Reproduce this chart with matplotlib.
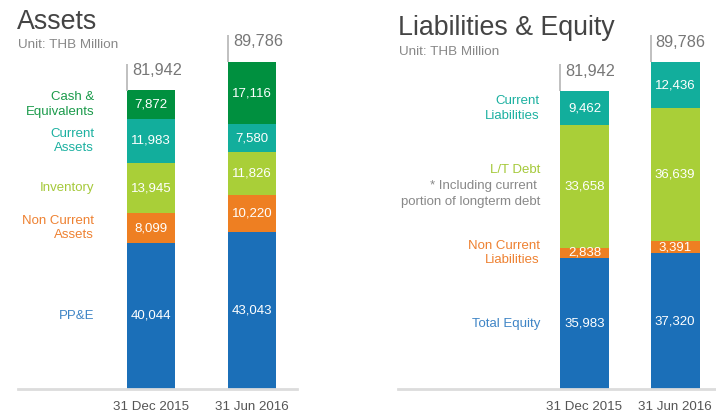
import numpy as np
import matplotlib.pyplot as plt

plt.rcParams['font.family'] = ['Liberation Sans', 'DejaVu Sans']

periods = ["31 Dec 2015", "31 Jun 2016"]

asset_cats = ["PP&E", "Non Current\nAssets", "Inventory", "Current\nAssets", "Cash &\nEquivalents"]
asset_dec15 = [40044, 8099, 13945, 11983, 7872]
asset_jun16 = [43043, 10220, 11826, 7580, 17116]
asset_totals = [81942, 89786]

liab_cats = ["Total Equity", "Non Current\nLiabilities", "L/T Debt", "Current\nLiabilities"]
liab_dec15 = [35983, 2838, 33658, 9462]
liab_jun16 = [37320, 3391, 36639, 12436]
liab_totals = [81942, 89786]

asset_colors = ["#1b6fb8", "#ee7f22", "#a9cf38", "#12ae9c", "#00903f"]
asset_text = ["#3f85c6", "#ee8131", "#a5c93a", "#1bb0a0", "#1a9a4a"]
liab_colors = ["#1b6fb8", "#ee7f22", "#a9cf38", "#12ae9c"]
liab_text = ["#3f85c6", "#ee8131", "#a5c93a", "#1bb0a0"]

W, H = 716, 416
PPU = 298 / 81942  # pixels per THB million

fig = plt.figure(figsize=(W / 100, H / 100), dpi=100)


def panel(x0, x1, ybase, c0, step, width_px, label_x, cats, s1, s2, totals, colors, tcolors):
    ax = fig.add_axes([x0 / W, (H - ybase) / H, (x1 - x0) / W, ybase / H])
    ax.set_xlim((x0 - c0) / step, (x1 - c0) / step)
    ax.set_ylim(0, ybase / PPU)
    w = width_px / step
    xs = np.array([0, 1])
    vals = np.array([s1, s2])
    bottom = np.zeros(2)
    for i in range(len(cats)):
        ax.bar(xs, vals[:, i], w, bottom=bottom, color=colors[i], linewidth=0)
        for j in range(2):
            ax.text(xs[j], bottom[j] + vals[j, i] / 2, f"{vals[j, i]:,}", ha='center', va='center',
                    color='white', fontsize=9.5)
        lx = (label_x - c0) / step
        cy = s1[i] / 2 + bottom[0]
        if cats[i] == "L/T Debt":
            ax.text(lx, cy + 17 / PPU, cats[i], ha='right', va='center', color=tcolors[i], fontsize=9.5)
            ax.text(lx, cy - 7 / PPU, "* Including current \nportion of longterm debt", ha='right',
                    va='center', color='#888888', fontsize=9.5, multialignment='right', linespacing=1.45)
        else:
            ax.text(lx, cy, cats[i], ha='right', va='center', color=tcolors[i], fontsize=9.5,
                    multialignment='right', linespacing=1.3)
        bottom += vals[:, i]
    for j in range(2):
        left = xs[j] - w / 2
        ax.vlines(left, totals[j], totals[j] + 27 / PPU, color='#bbbbbb', linewidth=1.3)
        ax.text(left + 5 / step, totals[j] + 20 / PPU, f"{totals[j]:,}", ha='left', va='center',
                color='#777777', fontsize=11.7)
    ax.axhline(0, color='#dcdcdc', linewidth=2, clip_on=False)
    ax.set_xticks(xs)
    ax.set_xticklabels(periods, color='#555555', fontsize=9.6)
    ax.tick_params(axis='x', length=0, pad=9)
    ax.set_yticks([])
    for s in ax.spines.values():
        s.set_visible(False)
    ax.patch.set_visible(False)
    return ax


panel(18, 297, 388.5, 151, 101, 48, 94, asset_cats, asset_dec15, asset_jun16, asset_totals,
      asset_colors, asset_text)
panel(398, 716, 389, 584.5, 90.5, 49, 540, liab_cats, liab_dec15, liab_jun16, liab_totals,
      liab_colors, liab_text)

fig.text(17 / W, 1 - 22 / H, "Assets", ha='left', va='center', fontsize=19.3, color='#444444')
fig.text(18 / W, 1 - 45 / H, "Unit: THB Million", ha='left', va='center', fontsize=9.7, color='#888888')
fig.text(398 / W, 1 - 28 / H, "Liabilities & Equity", ha='left', va='center', fontsize=19.3, color='#444444')
fig.text(399 / W, 1 - 52 / H, "Unit: THB Million", ha='left', va='center', fontsize=9.7, color='#888888')

fig.savefig("out.png", dpi=100)
